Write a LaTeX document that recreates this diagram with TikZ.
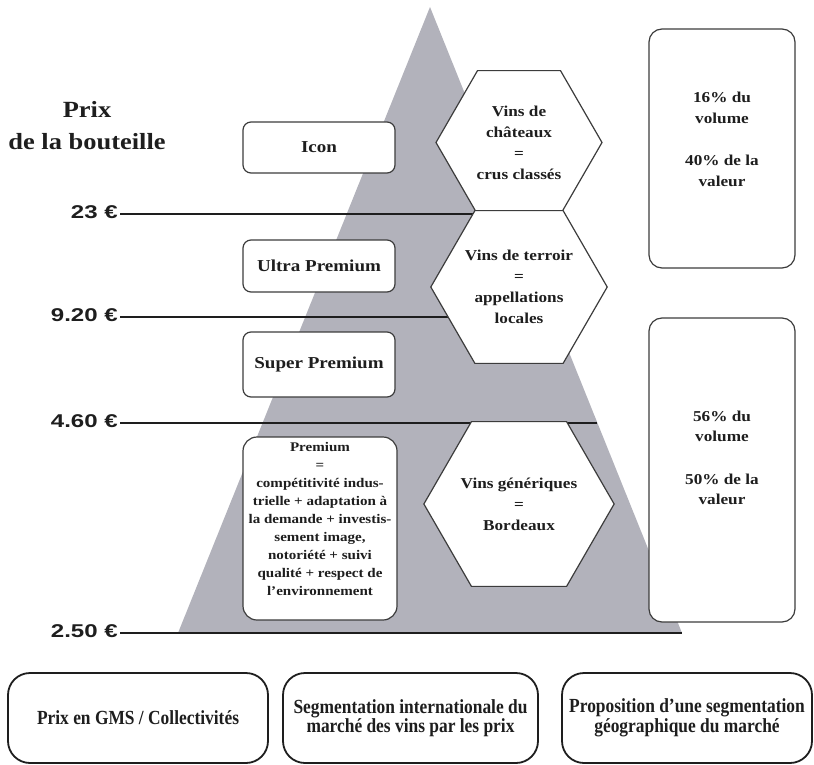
\documentclass[tikz,border=0pt]{standalone}
\usepackage{fontspec}
\setmainfont{Liberation Serif}
\newfontfamily\wideserif{Liberation Serif}[FakeStretch=1.14]
\newfontfamily\narrowserif{Liberation Serif}[FakeStretch=0.87]
\newfontfamily\pricesans{Liberation Sans}[FakeStretch=1.3]
\usetikzlibrary{shapes.geometric,positioning,calc}
\definecolor{pyrGrey}{RGB}{178,178,187}
\definecolor{inkDark}{RGB}{30,30,30}
\definecolor{edgeGrey}{RGB}{60,60,60}

\begin{document}
\begin{tikzpicture}[x=1pt, y=-1pt,
    tier/.style={rectangle, rounded corners=8pt, draw=edgeGrey, fill=white, line width=1.2pt,
                 minimum width=152pt, align=center, text=inkDark,
                 font=\wideserif\bfseries\fontsize{16.7}{20}\selectfont},
    hexa/.style={regular polygon, regular polygon sides=6, minimum size=166pt, inner sep=0pt,
                 draw=edgeGrey, fill=white, line width=1.2pt, align=center, text=inkDark,
                 font=\wideserif\bfseries\fontsize{15.1}{21}\selectfont},
    share/.style={rectangle, rounded corners=13pt, draw=edgeGrey, fill=white, line width=1.2pt,
                 minimum width=146pt},
    txt/.style={align=center, text=inkDark, font=\wideserif\bfseries\fontsize{15.1}{20.5}\selectfont},
    foot/.style={rectangle, rounded corners=22pt, draw=inkDark, fill=white, line width=1.8pt,
                 minimum height=90pt, align=center, text=inkDark,
                 font=\narrowserif\bfseries\fontsize{20}{19.5}\selectfont},
    price/.style={anchor=east, inner sep=2pt, text=inkDark,
                 font=\pricesans\bfseries\fontsize{18.5}{20}\selectfont},
    cut/.style={draw=inkDark, line width=2.4pt}
  ]
  \useasboundingbox (0,0) rectangle (814,765);

  % Pyramid
  \coordinate (apex)  at (430,7);
  \coordinate (baseL) at (178,633);
  \coordinate (baseR) at (682,633);
  \fill[pyrGrey] (apex) -- (baseL) -- (baseR) -- cycle;

  % Price levels
  \node[price] (p23)  at (120,212) {23 €};
  \node[price] (p920) at (120,315) {9.20 €};
  \node[price] (p460) at (120,421) {4.60 €};
  \node[price] (p250) at (120,631) {2.50 €};

  \coordinate (e23)  at (477.5,214);
  \coordinate (e920) at (500,317);
  \coordinate (e460) at ($(apex)!0.6645!(baseR)$);

  \draw[cut] (p23.east |- e23) -- (e23);
  \draw[cut] (p920.east |- e920) -- (e920);
  \draw[cut] (p460.east |- e460) -- (e460);
  \draw[cut] (p250.east |- baseR) -- (baseR);

  \node[font=\wideserif\bfseries\fontsize{23.2}{32}\selectfont, align=center, text=inkDark]
    (title) at (87,126) {Prix\\de la bouteille};

  % Price segments
  \node[tier, minimum height=51pt] (icon)  at (319,147.5) {Icon};
  \node[tier, minimum height=52pt] (ultra) at (319,266) {Ultra Premium};
  \node[tier, minimum height=65pt] (super) at (319,364.5) {Super Premium};
  \node[tier, rounded corners=14pt, minimum width=154pt, minimum height=183pt]
    (prem) at (320,528.5) {};
  \node[below=2pt of prem.north, align=center, text=inkDark,
        font=\wideserif\bfseries\fontsize{13.2}{18}\selectfont] (premtxt)
    {Premium\\=\\compétitivité indus-\\trielle + adaptation à\\la demande + investis-\\sement image,\\notoriété + suivi\\qualité + respect de\\l’environnement};

  % Geographic segments
  \node[hexa] (chat) at (519,142.5) {Vins de\\châteaux\\=\\crus classés};
  \node[hexa] (terr) at (519,287) {Vins de terroir\\=\\appellations\\locales};
  \node[hexa] (gene) at (519,504) {Vins génériques\\=\\Bordeaux};

  % Market shares
  \node[share, minimum height=239pt] (hi) at (722,148.5) {};
  \node[txt] (hitxt) at ([yshift=9pt]hi.center) {16\% du\\volume\\[22pt]40\% de la\\valeur};
  \node[share, minimum height=304pt] (lo) at (722,470) {};
  \node[txt] (lotxt) at ([yshift=12pt]lo.center) {56\% du\\volume\\[22pt]50\% de la\\valeur};

  % Captions
  \node[foot, minimum width=260pt] (gms)  at (138,718) {Prix en GMS / Collectivités};
  \node[foot, minimum width=255pt] (intl) at (410.5,718) {Segmentation internationale du\\marché des vins par les prix};
  \node[foot, minimum width=250pt] (geo)  at (687,718) {Proposition d’une segmentation\\géographique du marché};
\end{tikzpicture}
\end{document}
